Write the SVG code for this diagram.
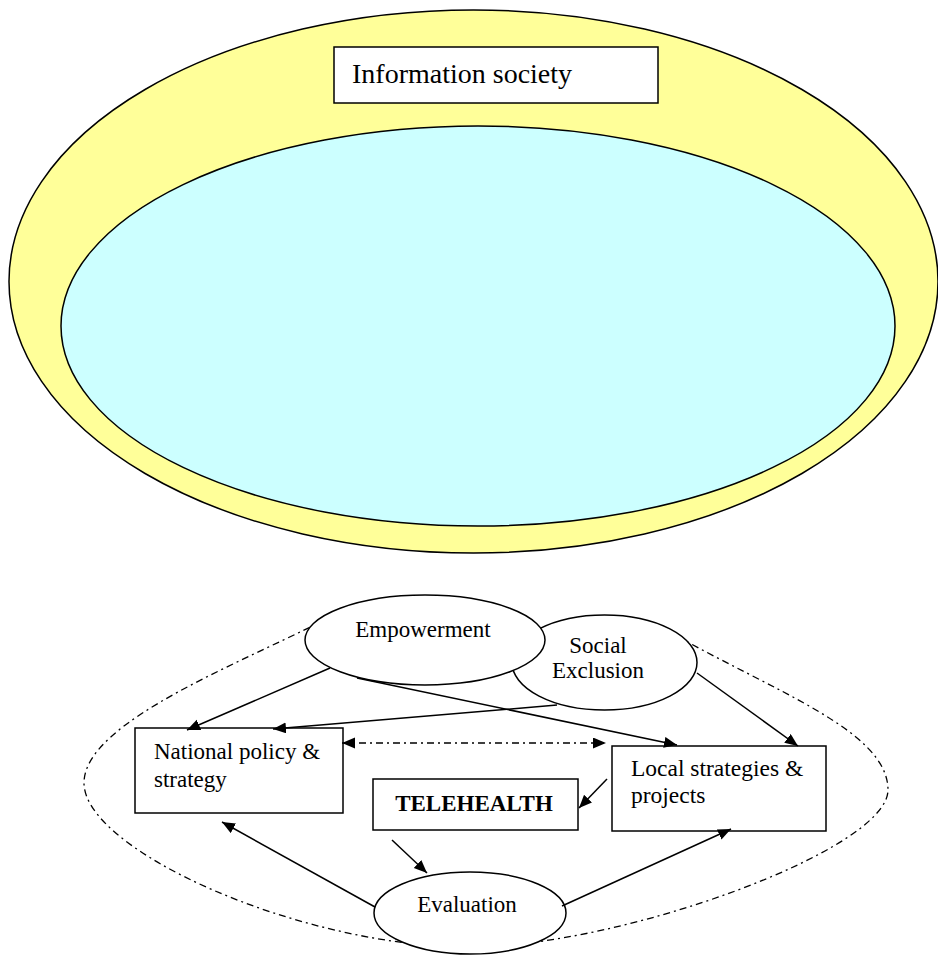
<svg xmlns="http://www.w3.org/2000/svg" width="938" height="956" viewBox="0 0 938 956">
<style>
  .txt{font-family:"Liberation Serif","Times New Roman",serif;fill:#000;}
  .node{fill:#fff;stroke:#000;stroke-width:1.5;}
  .edge{fill:none;stroke:#000;stroke-width:1.5;marker-end:url(#ah);}
  .dash{fill:none;stroke:#000;stroke-width:1.3;stroke-dasharray:7 4 2 4;}
</style>
<defs>
  <marker id="ah" markerUnits="userSpaceOnUse" markerWidth="14" markerHeight="12" refX="13" refY="5.5" orient="auto-start-reverse">
    <path d="M0,0 L13,5.5 L0,11 z" fill="#000"/>
  </marker>
</defs>
<rect width="938" height="956" fill="#fff"/>
<g id="outer">
  <ellipse cx="473.5" cy="281.5" rx="464.5" ry="271.5" fill="#FFFF99" stroke="#000" stroke-width="1.5"/>
</g>
<g id="inner">
  <ellipse cx="478" cy="326" rx="417" ry="200" fill="#CCFFFF" stroke="#000" stroke-width="1.5"/>
</g>
<g id="info-society">
  <rect x="334" y="47" width="324" height="56" class="node"/>
  <text x="352" y="83" class="txt" font-size="28">Information society</text>
</g>
<g id="boundary">
  <path class="dash" d="M340,612 C250,660 84,720 84,783 C84,850 300,947 470,947 C620,947 888,850 888,790 C888,730 770,690 670,632"/>
</g>
<g id="social-exclusion">
  <ellipse cx="604.5" cy="662.5" rx="92.5" ry="47.5" class="node"/>
  <text x="598" y="653" class="txt" font-size="23" text-anchor="middle">Social</text>
  <text x="598" y="678" class="txt" font-size="23" text-anchor="middle">Exclusion</text>
</g>
<g id="empowerment">
  <ellipse cx="425" cy="640" rx="120" ry="45" class="node"/>
  <text x="423" y="637" class="txt" font-size="23" text-anchor="middle">Empowerment</text>
</g>
<g id="national">
  <rect x="135" y="728" width="208" height="85" class="node"/>
  <text x="154" y="759" class="txt" font-size="23">National policy &amp;</text>
  <text x="154" y="787" class="txt" font-size="23">strategy</text>
</g>
<g id="local">
  <rect x="612" y="746" width="214" height="85" class="node"/>
  <text x="631" y="776" class="txt" font-size="23.5">Local strategies &amp;</text>
  <text x="631" y="803" class="txt" font-size="23.5">projects</text>
</g>
<g id="telehealth">
  <rect x="373" y="779" width="205" height="51" class="node"/>
  <text x="474" y="811" class="txt" font-size="23" font-weight="bold" text-anchor="middle">TELEHEALTH</text>
</g>
<g id="evaluation">
  <ellipse cx="470" cy="913" rx="96" ry="41" class="node"/>
  <text x="467" y="912" class="txt" font-size="23" text-anchor="middle">Evaluation</text>
</g>
<g id="connectors">
  <line class="edge" x1="330" y1="668" x2="187" y2="730"/>
  <line class="edge" x1="557" y1="705" x2="273" y2="729"/>
  <line class="edge" x1="357" y1="678" x2="677" y2="745"/>
  <line class="edge" x1="697" y1="673" x2="798" y2="746"/>
  <line class="dash" x1="342" y1="743" x2="606" y2="743" marker-start="url(#ah)" marker-end="url(#ah)"/>
  <line class="edge" x1="607" y1="779" x2="579" y2="808"/>
  <line class="edge" x1="392" y1="840" x2="427" y2="873"/>
  <line class="edge" x1="375" y1="907" x2="222" y2="822"/>
  <line class="edge" x1="562" y1="906" x2="731" y2="829"/>
</g>
</svg>
